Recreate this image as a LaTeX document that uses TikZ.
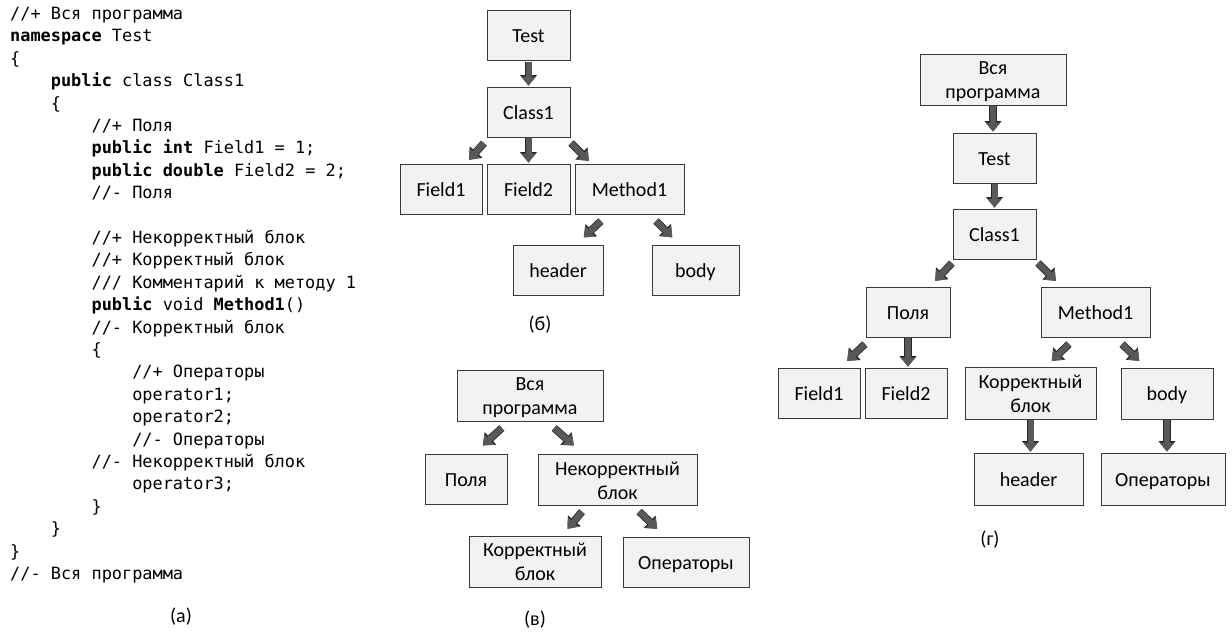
\documentclass[tikz,border=0pt]{standalone}
\usepackage{fontspec}
\setmainfont{Carlito}
\newfontfamily\codefont{DejaVu Sans Mono}
\usetikzlibrary{arrows.meta,calc}

\definecolor{boxfill}{HTML}{F2F2F2}
\definecolor{boxline}{HTML}{3A3A3A}
\definecolor{arrowfill}{HTML}{595959}
\definecolor{arrowedge}{HTML}{262626}

\newcommand{\tb}{\hspace*{2.408em}}
\newcommand{\kw}[1]{\textbf{#1}}

\begin{document}
\begin{tikzpicture}[
        x=1pt, y=-1pt,
        every node/.style={font=\fontsize{20}{24}\selectfont},
        box/.style={draw=boxline, fill=boxfill, line width=0.8pt,
            align=center, inner sep=2pt, minimum height=50pt,
            text height=17pt, text depth=3pt},
        box2/.style={box, minimum height=51pt, text height=41pt},
        barrow/.style={draw=arrowfill, line width=6pt,
            -{Triangle[length=9pt,width=14pt]},
            shorten <=1pt, shorten >=1pt,
            preaction={draw=arrowedge, line width=7.6pt,
                -{Triangle[length=10.5pt,width=16.4pt]}}},
        listing/.style={font=\codefont\fontsize{16.9}{22.4}\selectfont,
            align=left, inner sep=0pt, anchor=north west}
    ]

        \useasboundingbox (0,0) rectangle (1232,635);

        % (а) Исходный текст
        \node[listing] (code) at (10,7) {%
//+ Вся программа\\
\kw{namespace} Test\\
\{\\
\tb\kw{public} class Class1\\
\tb\{\\
\tb\tb//+ Поля\\
\tb\tb\kw{public} \kw{int} Field1 = 1;\\
\tb\tb\kw{public} \kw{double} Field2 = 2;\\
\tb\tb//- Поля\\
\mbox{}\\
\tb\tb//+ Некорректный блок\\
\tb\tb//+ Корректный блок\\
\tb\tb/// Комментарий к методу 1\\
\tb\tb\kw{public} void \kw{Method1}()\\
\tb\tb//- Корректный блок\\
\tb\tb\{\\
\tb\tb\tb//+ Операторы\\
\tb\tb\tb operator1;\\
\tb\tb\tb operator2;\\
\tb\tb\tb//- Операторы\\
\tb\tb//- Некорректный блок\\
\tb\tb\tb operator3;\\
\tb\tb\}\\
\tb\}\\
\}\\
//- Вся программа};
        \node (capa) at (181,617) {(а)};

        % (б) Дерево синтаксиса
        \node[box, minimum width=83pt]  (t1) at (528.5,35.5) {Test};
        \node[box, minimum width=83pt]  (c1) at (528.5,112) {Class1};
        \node[box, minimum width=82pt]  (f1) at (441,189) {Field1};
        \node[box, minimum width=83pt]  (f2) at (528.5,189) {Field2};
        \node[box, minimum width=109pt] (m1) at (629.5,189) {Method1};
        \node[box, minimum width=90pt]  (h1) at (558,270.5) {header};
        \node[box, minimum width=87pt]  (b1) at (695.5,270.5) {body};
        \node (capb) at (540,325) {(б)};

        \draw[barrow] (t1.south) -- (c1.north);
        \draw[barrow] ($(c1.south west)+(-2,5)$) -- ($(f1.north east)+(-14,-3)$);
        \draw[barrow] (c1.south) -- (f2.north);
        \draw[barrow] ($(c1.south east)+(0,5)$) -- ($(m1.north west)+(15,-2)$);
        \draw[barrow] ($(m1.south west)+(27,6)$) -- ($(h1.north)+(25,-7)$);
        \draw[barrow] ($(m1.south east)+(-29,6)$) -- ($(b1.north)+(-22.5,-7)$);

        % (в) Дерево блоков
        \node[box2, minimum width=146pt] (v0) at (530,395.5) {Вся\\программа};
        \node[box, minimum width=82pt]   (v1) at (466,479.5) {Поля};
        \node[box2, minimum width=159pt] (v2) at (617.5,480) {Некорректный\\блок};
        \node[box2, minimum width=132pt] (v3) at (535,561.5) {Корректный\\блок};
        \node[box, minimum width=126pt]  (v4) at (686,562) {Операторы};
        \node (capv) at (535,620) {(в)};

        \draw[barrow] ($(v0.south west)+(46,6)$) -- ($(v1.north)+(16,-8)$);
        \draw[barrow] ($(v0.south east)+(-50,6)$) -- ($(v2.north west)+(37,-8)$);
        \draw[barrow] ($(v2.south west)+(45,5)$) -- ($(v3.north)+(32,-6)$);
        \draw[barrow] ($(v2.south east)+(-59,5)$) -- ($(v4.north)+(-28,-7)$);

        % (г) Объединённое дерево
        \node[box2, minimum width=146pt] (g0) at (993,79.5) {Вся\\программа};
        \node[box, minimum width=83pt]   (g1) at (994.5,158) {Test};
        \node[box, minimum width=83pt]   (g2) at (994.5,234) {Class1};
        \node[box, minimum width=84pt]   (g3) at (908,312) {Поля};
        \node[box, minimum width=109pt]  (g4) at (1095.5,312) {Method1};
        \node[box, minimum width=82pt]   (g5) at (819,393) {Field1};
        \node[box, minimum width=82pt]   (g6) at (906,393) {Field2};
        \node[box2, minimum width=131pt, minimum height=52pt] (g7) at (1030.5,393) {Корректный\\блок};
        \node[box, minimum width=92pt, minimum height=51pt] (g8) at (1167,393.5) {body};
        \node[box, minimum width=109pt, minimum height=52pt] (g9) at (1028.5,479) {header};
        \node[box, minimum width=124pt, minimum height=52pt] (g10) at (1163,479) {Операторы};
        \node (capg) at (990,540) {(г)};

        \draw[barrow] (g0.south) -- (g0.south |- g1.north);
        \draw[barrow] (g1.south) -- (g2.north);
        \draw[barrow] ($(g2.south west)+(0,3)$) -- ($(g3.north east)+(-16,-5)$);
        \draw[barrow] ($(g2.south east)+(1,3)$) -- ($(g4.north west)+(16,-5)$);
        \draw[barrow] ($(g3.south west)+(0,6)$) -- ($(g5.north east)+(-14,-6)$);
        \draw[barrow] (g3.south) -- (g3.south |- g6.north);
        \draw[barrow] ($(g4.south west)+(29,6)$) -- ($(g7.north)+(20.5,-5)$);
        \draw[barrow] ($(g4.south east)+(-29,6)$) -- ($(g8.north)+(-27,-6)$);
        \draw[barrow] (g7.south) -- (g7.south |- g9.north);
        \draw[barrow] (g8.south) -- (g8.south |- g10.north);

    \end{tikzpicture}
\end{document}
